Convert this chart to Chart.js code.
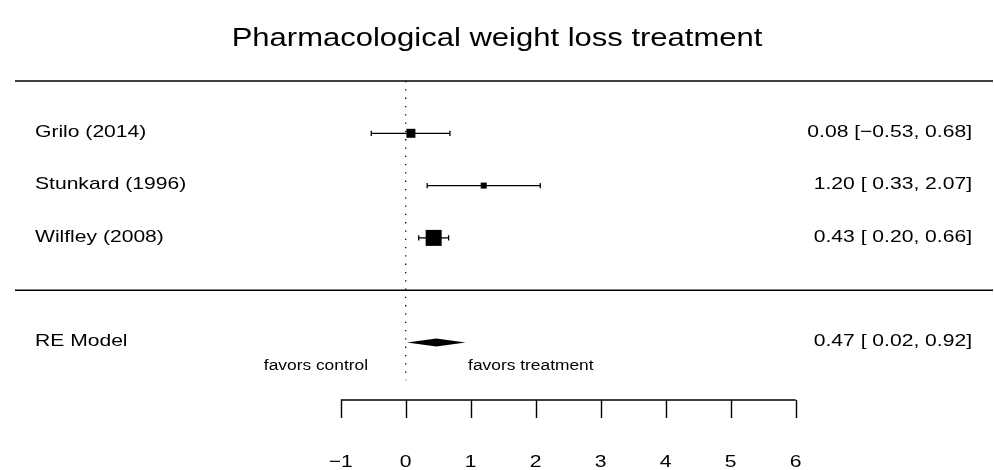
<!DOCTYPE html>
<html>
<head>
<meta charset="utf-8">
<script src="https://cdn.jsdelivr.net/npm/chart.js@4/dist/chart.umd.min.js"></script>
<style>
  html, body { margin: 0; padding: 0; background: #ffffff; overflow: hidden; }
  canvas { display: block; }
</style>
</head>
<body>
<canvas id="forest" width="994" height="470"></canvas>
<script>
// Study-level effect sizes with 95% confidence intervals
const studies   = ['Grilo (2014)', 'Stunkard (1996)', 'Wilfley (2008)'];
const estimates = [0.08, 1.20, 0.43];
const ciLower   = [-0.53, 0.33, 0.20];
const ciUpper   = [0.68, 2.07, 0.66];
const studyRows = [3, 2, 1];

// Random-effects summary
const pooledLabel    = 'RE Model';
const pooledEstimate = 0.47;
const pooledLower    = 0.02;
const pooledUpper    = 0.92;
const pooledRow      = -1;

// Axis
const tickValues = [-1, 0, 1, 2, 3, 4, 5, 6];
const tickLabels = ['\u22121', '0', '1', '2', '3', '4', '5', '6'];

const titleText = 'Pharmacological weight loss treatment';
const favorsLeft = 'favors control';
const favorsRight = 'favors treatment';

// ---- presentation ----
const FONT = '"Liberation Sans", Arial, Helvetica, sans-serif';
const SX = 1.24;                     // horizontal widening of the type
const markerSides = [9, 6, 16];      // square size in px for each study
const X_RANGE = [-6.011, 9.035];
const Y_RANGE = [-2.1, 4];
const TOP_ROW = 4, SEP_ROW = 0;

function num(v) { return (v < 0 ? '\u2212' : '') + Math.abs(v).toFixed(2); }
function padNum(v) { return (v < 0 ? '\u2212' : ' ') + Math.abs(v).toFixed(2); }
function annot(est, lo, hi) { return num(est) + ' [' + padNum(lo) + ', ' + num(hi) + ']'; }

function wideText(ctx, txt, x, y, align, size) {
  ctx.save();
  ctx.font = size + 'px ' + FONT;
  ctx.fillStyle = '#000';
  ctx.textAlign = align;
  ctx.textBaseline = 'middle';
  ctx.translate(x, y);
  ctx.scale(SX, 1);
  ctx.fillText(txt, 0, 0);
  ctx.restore();
}

const forestDecor = {
  id: 'forestDecor',
  afterDatasetsDraw(chart) {
    const ctx = chart.ctx;
    const xs = chart.scales.x, ys = chart.scales.y;
    // summary diamond
    const yc = ys.getPixelForValue(pooledRow);
    ctx.save();
    ctx.fillStyle = '#000';
    ctx.beginPath();
    ctx.moveTo(xs.getPixelForValue(pooledLower), yc);
    ctx.lineTo(xs.getPixelForValue(pooledEstimate), yc - 4);
    ctx.lineTo(xs.getPixelForValue(pooledUpper), yc);
    ctx.lineTo(xs.getPixelForValue(pooledEstimate), yc + 4);
    ctx.closePath();
    ctx.fill();
    ctx.restore();
  },
  afterDraw(chart) {
    const ctx = chart.ctx;
    const xs = chart.scales.x, ys = chart.scales.y;
    const area = chart.chartArea;

    // title
    wideText(ctx, titleText, chart.width / 2, 39, 'center', 25);

    // study labels and annotations
    const leftX = area.left + 20, rightX = area.right - 21;
    studies.forEach((s, i) => {
      const y = ys.getPixelForValue(studyRows[i]) - 1;
      wideText(ctx, s, leftX, y, 'left', 17);
      wideText(ctx, annot(estimates[i], ciLower[i], ciUpper[i]), rightX, y, 'right', 17);
    });
    const py = ys.getPixelForValue(pooledRow) - 1;
    wideText(ctx, pooledLabel, leftX, py, 'left', 17);
    wideText(ctx, annot(pooledEstimate, pooledLower, pooledUpper), rightX, py, 'right', 17);

    // favors labels
    const fy = ys.getPixelForValue(-1.45);
    wideText(ctx, favorsLeft, xs.getPixelForValue(-0.58), fy, 'right', 14);
    wideText(ctx, favorsRight, xs.getPixelForValue(0.96), fy, 'left', 14);

    // x axis
    const ay = area.bottom;
    const x0 = xs.getPixelForValue(tickValues[0]);
    const x1 = xs.getPixelForValue(tickValues[tickValues.length - 1]);
    ctx.save();
    ctx.strokeStyle = '#000';
    ctx.lineWidth = 1.4;
    ctx.beginPath();
    ctx.moveTo(x0, ay);
    ctx.lineTo(x1, ay);
    tickValues.forEach(v => {
      const tx = Math.round(xs.getPixelForValue(v)) + 0.5;
      ctx.moveTo(tx, ay);
      ctx.lineTo(tx, ay + 18);
    });
    ctx.stroke();
    ctx.restore();
    tickValues.forEach((v, i) => {
      wideText(ctx, tickLabels[i], xs.getPixelForValue(v), 462, 'center', 17);
    });
  }
};

const lineStyle = { showLine: true, borderColor: '#000', pointRadius: 0, fill: false, clip: false };

const datasets = [
  // study squares
  {
    type: 'scatter', order: 0,
    data: estimates.map((v, i) => ({ x: v, y: studyRows[i] })),
    pointStyle: 'rect',
    pointRadius: markerSides.map(s => s / Math.SQRT2),
    pointBackgroundColor: '#000', pointBorderWidth: 0, borderWidth: 0
  },
  // confidence intervals with end caps
  ...studies.map((s, i) => ({
    type: 'line', order: 1, label: s,
    data: [{ x: ciLower[i], y: studyRows[i] }, { x: ciUpper[i], y: studyRows[i] }],
    borderColor: '#000', borderWidth: 1.3,
    pointStyle: 'line', pointRotation: 90, pointRadius: 2.6,
    pointBorderColor: '#000', pointBorderWidth: 1.3,
    fill: false, clip: false
  })),
  // reference line at zero
  Object.assign({ type: 'line', order: 2,
    data: [{ x: 0, y: TOP_ROW }, { x: 0, y: -1.72 }],
    borderWidth: 1.3, borderDash: [1.3, 7] }, lineStyle),
  // frame lines
  Object.assign({ type: 'line', order: 2,
    data: [{ x: X_RANGE[0], y: TOP_ROW }, { x: X_RANGE[1], y: TOP_ROW }],
    borderWidth: 1.6 }, lineStyle),
  Object.assign({ type: 'line', order: 2,
    data: [{ x: X_RANGE[0], y: SEP_ROW }, { x: X_RANGE[1], y: SEP_ROW }],
    borderWidth: 1.6 }, lineStyle)
];

new Chart(document.getElementById('forest'), {
  type: 'scatter',
  data: { datasets },
  options: {
    responsive: false,
    animation: false,
    devicePixelRatio: 1,
    events: [],
    layout: { autoPadding: false, padding: { left: 15, right: 1, top: 81, bottom: 70 } },
    scales: {
      x: { type: 'linear', min: X_RANGE[0], max: X_RANGE[1], display: false },
      y: { type: 'linear', min: Y_RANGE[0], max: Y_RANGE[1], display: false }
    },
    plugins: { legend: { display: false }, tooltip: { enabled: false }, title: { display: false } }
  },
  plugins: [forestDecor]
});
</script>
</body>
</html>
